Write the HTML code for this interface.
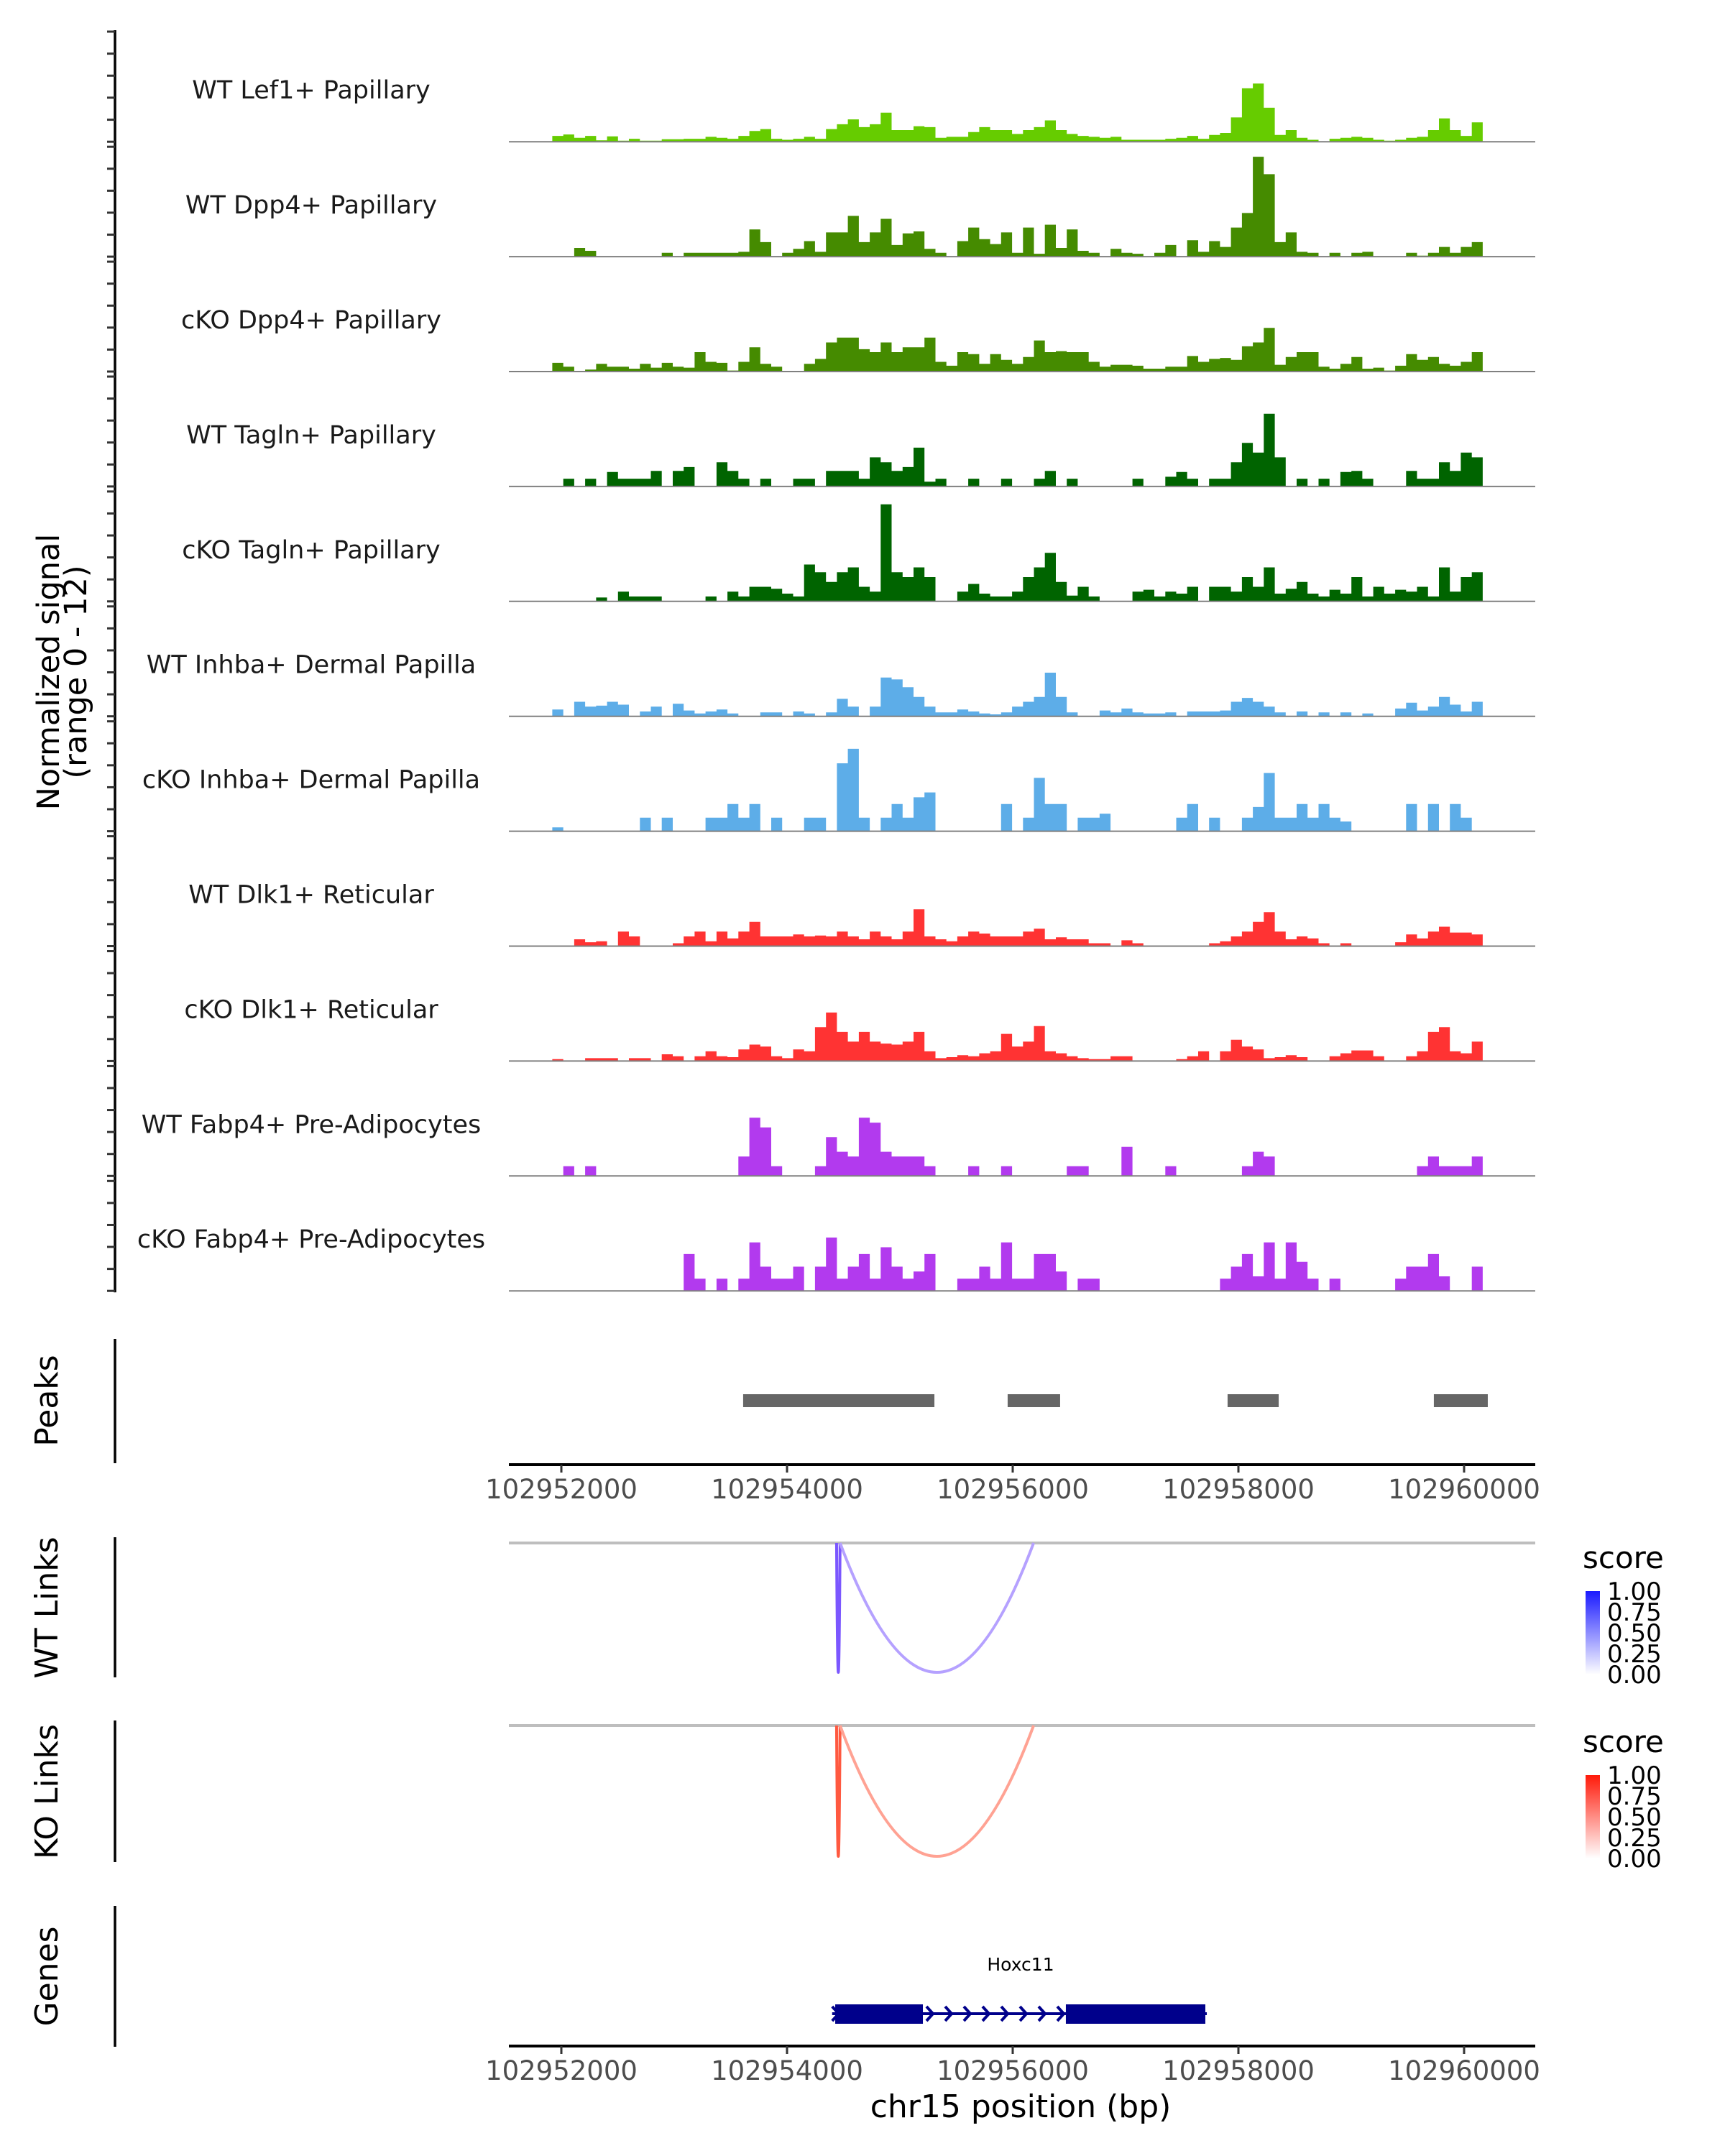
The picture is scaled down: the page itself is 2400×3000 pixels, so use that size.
<!DOCTYPE html>
<html><head><meta charset="utf-8"><style>
html,body{margin:0;padding:0;background:#fff;}
svg{display:block;font-family:"DejaVu Sans","Liberation Sans",sans-serif;}
</style></head><body>
<svg id="chart" width="2400" height="3000" viewBox="0 0 2400 3000" xmlns="http://www.w3.org/2000/svg"></svg>
<script>
// ---- data ----
const trackNames = ["WT Lef1+ Papillary","WT Dpp4+ Papillary","cKO Dpp4+ Papillary","WT Tagln+ Papillary","cKO Tagln+ Papillary","WT Inhba+ Dermal Papilla","cKO Inhba+ Dermal Papilla","WT Dlk1+ Reticular","cKO Dlk1+ Reticular","WT Fabp4+ Pre-Adipocytes","cKO Fabp4+ Pre-Adipocytes"];
const trackColors = ["#66cc00","#458b00","#458b00","#006400","#006400","#5dade8","#5dade8","#ff3333","#ff3333","#b23aee","#b23aee"];
const binStart = 102951920;
const binWidth = 97;
const wtLef1 = [0.6,0.75,0.4,0.6,0.15,0.55,0.1,0.3,0.1,0.1,0.25,0.25,0.3,0.3,0.5,0.4,0.3,0.6,1.1,1.3,0.3,0.2,0.3,0.5,0.3,1.3,1.8,2.3,1.5,1.8,3.0,1.2,1.2,1.6,1.5,0.4,0.5,0.5,1.0,1.5,1.2,1.2,0.8,1.2,1.5,2.2,1.2,0.8,0.6,0.5,0.4,0.5,0.2,0.2,0.2,0.2,0.3,0.4,0.6,0.3,0.7,0.9,2.5,5.5,6.0,3.5,0.7,1.2,0.4,0.2,0,0.3,0.4,0.5,0.4,0.2,0.1,0.2,0.4,0.5,1.2,2.4,1.2,0.6,2.0];
const wtDpp4 = [0,0,0.9,0.6,0,0,0,0,0,0,0.4,0,0.4,0.4,0.4,0.4,0.4,0.5,2.8,1.5,0,0.4,0.8,1.6,0.5,2.5,2.5,4.2,1.5,2.5,3.9,1.2,2.4,2.6,0.8,0.4,0,1.6,3.0,1.8,1.3,2.5,0.4,3.0,0.3,3.3,0.9,2.8,0.6,0.4,0,0.8,0.4,0.3,0,0.4,1.2,0,1.7,0.5,1.6,1.0,3.0,4.5,10.3,8.5,1.5,2.5,0.5,0.4,0,0.4,0,0.4,0.5,0,0,0,0.4,0.1,0.4,1.0,0.4,1.0,1.5];
const koDpp4 = [0.9,0.5,0,0.2,0.8,0.5,0.5,0.3,0.8,0.4,0.9,0.5,0.4,2.0,1.0,0.9,0.1,1.0,2.5,0.8,0.5,0,0,0.8,1.3,3.0,3.5,3.5,2.3,2.0,3.0,2.0,2.5,2.5,3.5,1.0,0.6,2.0,1.8,0.8,1.8,1.2,0.8,1.5,3.2,2.0,2.1,2.0,2.0,1.0,0.5,0.7,0.7,0.6,0.3,0.3,0.5,0.5,1.6,1.0,1.3,1.4,1.2,2.6,3.0,4.5,0.7,1.5,2.0,2.0,0.5,0.3,0.8,1.5,0.3,0.4,0.1,0.6,1.8,1.2,1.5,0.8,0.6,1.0,2.0];
const wtTagln = [0,0.8,0,0.8,0,1.5,0.8,0.8,0.8,1.6,0,1.6,2.0,0,0,2.5,1.6,0.8,0,0.8,0,0,0.8,0.8,0,1.6,1.6,1.6,0.8,3.0,2.5,1.6,2.0,4.0,0.5,0.8,0,0,0.8,0,0,0.8,0,0,0.8,1.6,0,0.8,0,0,0,0,0,0.8,0,0,1.0,1.5,0.8,0,0.8,0.8,2.5,4.5,3.5,7.5,3.0,0,0.8,0,0.8,0,1.5,1.6,0.8,0,0,0,1.6,0.8,0.8,2.5,1.6,3.5,3.0];
const koTagln = [0,0,0,0,0.4,0,1.0,0.5,0.5,0.5,0,0,0,0,0.5,0,1.0,0.5,1.5,1.5,1.3,0.8,0.5,3.8,3.0,2.0,3.0,3.5,1.5,1.0,10.0,3.0,2.5,3.5,2.5,0,0,1.0,1.8,0.8,0.5,0.5,1.0,2.5,3.5,5.0,2.0,0.6,1.5,0.5,0,0,0,1.0,1.2,0.5,1.0,0.8,1.5,0,1.5,1.5,1.0,2.5,1.5,3.5,0.8,1.3,2.0,0.8,0.5,1.2,0.8,2.5,0.5,1.5,0.8,1.2,1.0,1.5,0.5,3.5,1.0,2.5,3.0];
const wtInhba = [0.7,0,1.5,1.0,1.1,1.5,1.2,0,0.5,1.0,0,1.3,0.6,0.3,0.5,0.7,0.3,0,0,0.4,0.4,0,0.5,0.3,0,0.4,1.8,1.0,0,1.0,4.0,3.8,3.0,2.0,1.0,0.4,0.4,0.7,0.5,0.3,0.2,0.4,1.0,1.5,2.0,4.5,2.0,0.4,0,0,0.6,0.4,0.8,0.4,0.3,0.3,0.4,0,0.5,0.5,0.5,0.6,1.5,1.9,1.5,1.0,0.4,0,0.5,0,0.4,0,0.4,0,0.3,0,0,0.8,1.4,0.6,1.0,2.0,1.2,0.5,1.5];
const koInhba = [0.4,0,0,0,0,0,0,0,1.4,0,1.4,0,0,0,1.4,1.4,2.8,1.4,2.8,0,1.4,0,0,1.4,1.4,0,7.0,8.5,1.4,0,1.4,2.8,1.4,3.5,4.0,0,0,0,0,0,0,2.8,0,1.4,5.5,2.8,2.8,0,1.4,1.4,1.8,0,0,0,0,0,0,1.4,2.8,0,1.4,0,0,1.4,2.5,6.0,1.4,1.4,2.8,1.4,2.8,1.4,1.0,0,0,0,0,0,2.8,0,2.8,0,2.8,1.4,0];
const wtDlk1 = [0,0,0.7,0.4,0.5,0,1.5,1.0,0,0,0,0.3,1.0,1.5,0.5,1.5,0.8,1.5,2.5,1.0,1.0,1.0,1.2,1.0,1.1,1.0,1.5,1.0,0.7,1.5,1.0,0.7,1.5,3.8,1.0,0.7,0.5,1.0,1.5,1.3,1.0,1.0,1.0,1.5,1.8,0.7,0.9,0.7,0.7,0.3,0.3,0,0.6,0.3,0,0,0,0,0,0,0.3,0.5,1.0,1.5,2.5,3.5,1.5,0.7,1.0,0.8,0.3,0,0.3,0,0,0,0,0.4,1.2,0.8,1.5,2.0,1.4,1.4,1.2];
const koDlk1 = [0.2,0,0,0.3,0.3,0.3,0,0.3,0.3,0,0.7,0.5,0,0.5,1.0,0.5,0.4,1.2,1.7,1.5,0.5,0.3,1.2,1.0,3.5,5.0,3.0,2.0,3.0,2.0,1.8,1.7,2.0,3.0,1.0,0.3,0.4,0.6,0.5,0.8,1.0,2.8,1.5,2.0,3.6,1.0,0.8,0.5,0.3,0.2,0.2,0.5,0.5,0,0,0,0,0.2,0.5,1.0,0,1.0,2.2,1.5,1.2,0.3,0.4,0.6,0.4,0,0,0.5,0.8,1.1,1.1,0.5,0,0,0.5,1.0,3.0,3.5,1.0,0.8,2.0];
const wtFabp4 = [0,1.0,0,1.0,0,0,0,0,0,0,0,0,0,0,0,0,0,2.0,6.0,5.0,1.0,0,0,0,1.0,4.0,2.5,2.0,6.0,5.5,2.5,2.0,2.0,2.0,1.0,0,0,0,1.0,0,0,1.0,0,0,0,0,0,1.0,1.0,0,0,0,3.0,0,0,0,1.0,0,0,0,0,0,0,1.0,2.5,2.0,0,0,0,0,0,0,0,0,0,0,0,0,0,1.0,2.0,1.0,1.0,1.0,2.0];
const koFabp4 = [0,0,0,0,0,0,0,0,0,0,0,0,3.8,1.25,0,1.25,0,1.25,5.0,2.5,1.25,1.25,2.5,0,2.5,5.5,1.25,2.5,3.8,1.25,4.5,2.5,1.25,2.0,3.8,0,0,1.25,1.25,2.5,1.25,5.0,1.25,1.25,3.8,3.8,2.0,0,1.25,1.25,0,0,0,0,0,0,0,0,0,0,0,1.25,2.5,3.8,1.5,5.0,1.25,5.0,3.0,1.25,0,1.25,0,0,0,0,0,1.25,2.5,2.5,3.8,1.5,0,0,2.5];
const trackData = [wtLef1,wtDpp4,koDpp4,wtTagln,koTagln,wtInhba,koInhba,wtDlk1,koDlk1,wtFabp4,koFabp4];
const peakStarts = [102953611,102955955,102957904,102959732];
const peakEnds   = [102955306,102956420,102958357,102960210];
const axisTicks = [102952000,102954000,102956000,102958000,102960000];
const linkStarts = [102954439,102954470];
const linkEnds   = [102954470,102956185];
const wtLinkScores = [0.8,0.45];
const koLinkScores = [0.8,0.45];
const legendTicks = ["1.00","0.75","0.50","0.25","0.00"];
const geneName = "Hoxc11";
const exonStarts = [102954427,102956471];
const exonEnds   = [102955204,102957707];
const geneStart = 102954400, geneEnd = 102957720;

// ---- scales ----
const X0 = 781, XK = 0.157;
function xs(bp){ return X0 + (bp - 102952000) * XK; }
const PLOT_L = 708, PLOT_R = 2136;
const BASE0 = 197.2, TRACK_H = 159.9, UNIT = 13.5;
function baseY(k){ return BASE0 + k * TRACK_H; }
function ys(k, v){ return baseY(k) - v * UNIT; }

const svg = document.getElementById('chart');
const NS = "http://www.w3.org/2000/svg";
function mk(tag, attrs, parent){
  const e = document.createElementNS(NS, tag);
  for (const k in attrs) e.setAttribute(k, attrs[k]);
  (parent || svg).appendChild(e);
  return e;
}

// ---- coverage tracks ----
trackData.forEach((arr, k) => {
  const g = mk('g', {});
  
  
  let d = 'M' + xs(binStart).toFixed(1) + ',' + baseY(k).toFixed(1);
  arr.forEach((v, i) => {
    const xa = xs(binStart + i*binWidth), xb = xs(binStart + (i+1)*binWidth);
    const y = ys(k, v);
    d += 'L' + xa.toFixed(1) + ',' + y.toFixed(1) + 'L' + xb.toFixed(1) + ',' + y.toFixed(1);
  });
  d += 'L' + xs(binStart + arr.length*binWidth).toFixed(1) + ',' + baseY(k).toFixed(1) + 'Z';
  const p = mk('path', {d: d, fill: trackColors[k]}, g);
  
  
  const bl = mk('line', {x1: PLOT_L, x2: PLOT_R, y1: baseY(k), y2: baseY(k), stroke: '#808080', 'stroke-width': 2}, g);
  
  
  const t = mk('text', {x: 433, y: baseY(k) - 60, 'font-size': 35, fill: '#1a1a1a', 'text-anchor': 'middle'}, g);
  
  
  t.textContent = trackNames[k];
});

// ---- left y axis with ticks ----
const yax = mk('line', {x1: 160, x2: 160, y1: 42, y2: baseY(10)+2, stroke: '#000', 'stroke-width': 3.5});


for (let k = 0; k < trackData.length; k++){
  const top = k === 0 ? 44 : baseY(k-1) + 7;
  const bot = baseY(k);
  for (let j = 0; j <= 5; j++){
    const y = top + (bot - top) * j / 5;
    const tk = mk('line', {x1: 149, x2: 160, y1: y, y2: y, stroke: '#333', 'stroke-width': 3});
    
    
  }
}
const yt = mk('text', {transform: 'translate(82,935) rotate(-90)', 'font-size': 43, 'text-anchor': 'middle', fill: '#000'});


yt.textContent = 'Normalized signal';
const yt2 = mk('text', {transform: 'translate(120,935) rotate(-90)', 'font-size': 43, 'text-anchor': 'middle', fill: '#000'});


yt2.textContent = '(range 0 - 12)';

// ---- panel side labels ----
function sideLabel(txt, cy, y1, y2, name){
  const l = mk('line', {x1: 160, x2: 160, y1: y1, y2: y2, stroke: '#000', 'stroke-width': 3.5});
  
  
  const t = mk('text', {transform: 'translate(80,' + cy + ') rotate(-90)', 'font-size': 44, 'text-anchor': 'middle', fill: '#000'});
  
  
  t.textContent = txt;
}
sideLabel('Peaks', 1949, 1863, 2036, 'peaks');
sideLabel('WT Links', 2237, 2139, 2334, 'wt-links');
sideLabel('KO Links', 2493, 2394, 2591, 'ko-links');
sideLabel('Genes', 2750, 2652, 2848, 'genes');

// ---- peaks ----
peakStarts.forEach((s, i) => {
  const r = mk('rect', {x: xs(s), y: 1940, width: xs(peakEnds[i]) - xs(s), height: 18, fill: '#666666'});
  
  
});

// ---- x axes ----
function xAxis(y, name){
  const g = mk('g', {});
  
  
  mk('line', {x1: PLOT_L, x2: PLOT_R, y1: y, y2: y, stroke: '#000', 'stroke-width': 4}, g);
  axisTicks.forEach(t => {
    const tk = mk('line', {x1: xs(t), x2: xs(t), y1: y, y2: y + 11, stroke: '#333', 'stroke-width': 3}, g);
    
    
    const lb = mk('text', {x: xs(t), y: y + 47, 'font-size': 37, fill: '#4d4d4d', 'text-anchor': 'middle'}, g);
    
    
    lb.textContent = String(t);
  });
}
xAxis(2038, 'peaks-x-axis');
xAxis(2847, 'genes-x-axis');
const xt = mk('text', {x: 1420, y: 2946, 'font-size': 44, 'text-anchor': 'middle', fill: '#000'});


xt.textContent = 'chr15 position (bp)';

// ---- links ----
function interp(c1, c2, t){
  const a = parseInt(c1.slice(1),16), b = parseInt(c2.slice(1),16);
  const r = Math.round(((a>>16)&255)*(1-t) + ((b>>16)&255)*t);
  const g = Math.round(((a>>8)&255)*(1-t) + ((b>>8)&255)*t);
  const bl = Math.round((a&255)*(1-t) + (b&255)*t);
  return 'rgb(' + r + ',' + g + ',' + bl + ')';
}
function linkPanel(topY, depth, scores, hi, name){
  const gl = mk('line', {x1: PLOT_L, x2: PLOT_R, y1: topY, y2: topY, stroke: '#bebebe', 'stroke-width': 4});
  
  
  linkStarts.forEach((s, i) => {
    const xa = xs(s), xb = xs(linkEnds[i]);
    const yc = topY + depth * 2;
    const p = mk('path', {d: 'M' + xa + ',' + topY + ' Q' + ((xa+xb)/2) + ',' + yc + ' ' + xb + ',' + topY,
      fill: 'none', stroke: interp('#ffffff', hi, scores[i]), 'stroke-width': 4});
    
    
  });
}
linkPanel(2147, 180, wtLinkScores, '#5a2dff', 'wt-link');
linkPanel(2401, 182, koLinkScores, '#ff3010', 'ko-link');

// ---- legends ----
const defs = mk('defs', {});
function grad(id, c){
  const g = mk('linearGradient', {id: id, x1: 0, y1: 0, x2: 0, y2: 1}, defs);
  mk('stop', {offset: '0', 'stop-color': c}, g);
  mk('stop', {offset: '1', 'stop-color': '#ffffff'}, g);
}
grad('gwt', '#1a1aff'); grad('gko', '#ff1a0a');
function legend(titleY, barTop, barBot, gid, name){
  const t = mk('text', {x: 2202, y: titleY + 14, 'font-size': 42, fill: '#000'});
  
  
  t.textContent = 'score';
  const r = mk('rect', {x: 2206, y: barTop, width: 20, height: barBot - barTop, fill: 'url(#' + gid + ')'});
  
  
  legendTicks.forEach((lb, i) => {
    const y = barTop + (barBot - barTop) * i / 4;
    const tx = mk('text', {x: 2236, y: y + 12, 'font-size': 34, fill: '#000'});
    
    
    tx.textContent = lb;
  });
}
legend(2168, 2214, 2330, 'gwt', 'wt-legend');
legend(2424, 2470, 2586, 'gko', 'ko-legend');

// ---- gene ----
const gg = mk('g', {});


mk('line', {x1: xs(geneStart), x2: xs(geneEnd), y1: 2802, y2: 2802, stroke: '#00008b', 'stroke-width': 4}, gg);
exonStarts.forEach((s, i) => {
  const r = mk('rect', {x: xs(s), y: 2789, width: xs(exonEnds[i]) - xs(s), height: 27, fill: '#00008b'}, gg);
  
  
});
for (let j = 0; j < 8; j++){
  const cx = xs(exonEnds[0]) + 10 + j * 26;
  mk('path', {d: 'M' + (cx-5) + ',2792 L' + (cx+4) + ',2802 L' + (cx-5) + ',2812', fill: 'none', stroke: '#00008b', 'stroke-width': 4}, gg);
}
mk('path', {d: 'M' + (xs(geneStart)+0) + ',2792 L' + (xs(geneStart)+9) + ',2802 L' + (xs(geneStart)+0) + ',2812', fill: 'none', stroke: '#00008b', 'stroke-width': 4}, gg);
const gl = mk('text', {x: 1420, y: 2742, 'font-size': 25, 'text-anchor': 'middle', fill: '#000'}, gg);


gl.textContent = geneName;
</script>
</body></html>
